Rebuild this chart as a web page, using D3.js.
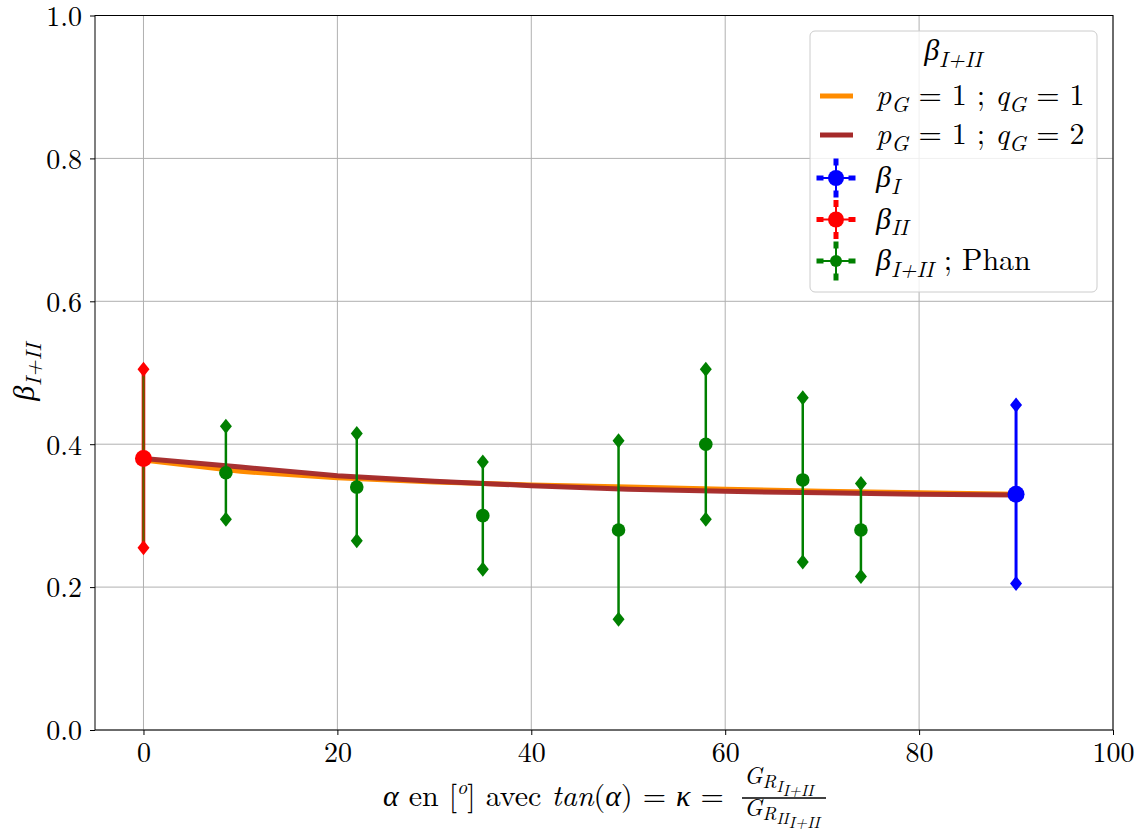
<!DOCTYPE html>
<html><head><meta charset="utf-8">
<script src="https://cdn.jsdelivr.net/npm/d3@7"></script>
<style>body{margin:0;background:#fff}svg{display:block}</style>
</head><body><svg id="c" width="1143" height="837"></svg>
<script>
// ---- data ----
const xTicks = [0, 20, 40, 60, 80, 100];
const yTicks = [0.0, 0.2, 0.4, 0.6, 0.8, 1.0];
const curveX = [0, 10, 20, 30, 40, 50, 60, 70, 80, 90];
const curve11 = [0.378, 0.362, 0.353, 0.347, 0.343, 0.340, 0.337, 0.334, 0.332, 0.330];
const curve12 = [0.380, 0.368, 0.356, 0.348, 0.342, 0.337, 0.334, 0.332, 0.330, 0.329];
const phanX = [8.5, 22, 35, 49, 58, 68, 74];
const phanY = [0.36, 0.34, 0.30, 0.28, 0.40, 0.35, 0.28];
const phanErr = [0.065, 0.075, 0.075, 0.125, 0.105, 0.115, 0.065];
const betaIIX = [0], betaIIY = [0.38], betaIIErr = [0.125];
const betaIX = [90], betaIY = [0.33], betaIErr = [0.125];

const FONT = "Latin Modern Roman, Liberation Serif, serif";
const svg = d3.select("#c");
const L = 95, R = 1113, T = 15.5, B = 730;
const x = d3.scaleLinear().domain([-5, 100]).range([L, R]);
const y = d3.scaleLinear().domain([0, 1]).range([B, T]);

// grid
const g = svg.append("g");
g.selectAll(".gx").data(xTicks).join("line").attr("x1", d=>x(d)).attr("x2", d=>x(d)).attr("y1", T).attr("y2", B).attr("stroke", "#b0b0b0").attr("stroke-width", 1);
g.selectAll(".gy").data(yTicks).join("line").attr("y1", d=>y(d)).attr("y2", d=>y(d)).attr("x1", L).attr("x2", R).attr("stroke", "#b0b0b0").attr("stroke-width", 1);

// axes
const ax = svg.append("g").attr("transform", `translate(0,${B})`).call(d3.axisBottom(x).tickValues(xTicks).tickFormat(d3.format("d")).tickSize(5).tickPadding(7));
const ay = svg.append("g").attr("transform", `translate(${L},0)`).call(d3.axisLeft(y).tickValues(yTicks).tickFormat(d3.format(".1f")).tickSize(5).tickPadding(8));
[ax, ay].forEach(a => { a.attr("font-family", FONT); a.select(".domain").remove(); a.selectAll("text").attr("font-size", 28).attr("font-family", FONT).attr("fill", "#000"); a.selectAll("line").attr("stroke", "#000"); });
ay.selectAll("text").attr("dy", "0.35em");
svg.append("rect").attr("x", L).attr("y", T).attr("width", R - L).attr("height", B - T).attr("fill", "none").attr("stroke", "#000").attr("stroke-width", 1);

// curves
const line = d3.line().x((d,i)=>x(curveX[i])).y(d=>y(d));
svg.append("path").datum(curve11).attr("d", line).attr("fill", "none").attr("stroke", "#ff8c00").attr("stroke-width", 5);
svg.append("path").datum(curve12).attr("d", line).attr("fill", "none").attr("stroke", "#a52a2a").attr("stroke-width", 5).attr("opacity", 0.97);

function diamond(cx, cy, w, h){ return `M${cx},${cy-h}L${cx+w},${cy}L${cx},${cy+h}L${cx-w},${cy}Z`; }
function errbars(xs, ys, es, color, lw, r, lineColor){
  const eg = svg.append("g");
  xs.forEach((xv, i) => {
    const px = x(xv), top = y(ys[i] + es[i]), bot = y(ys[i] - es[i]);
    eg.append("line").attr("x1", px).attr("x2", px).attr("y1", top).attr("y2", bot).attr("stroke", color).attr("stroke-width", lw);
    if (lineColor) eg.append("line").attr("x1", px).attr("x2", px).attr("y1", top).attr("y2", bot).attr("stroke", lineColor).attr("stroke-width", lw*0.6);
    eg.append("path").attr("d", diamond(px, top, 6, 7.5)).attr("fill", color);
    eg.append("path").attr("d", diamond(px, bot, 6, 7.5)).attr("fill", color);
    eg.append("circle").attr("cx", px).attr("cy", y(ys[i])).attr("r", r).attr("fill", color);
  });
}
errbars(betaIIX, betaIIY, betaIIErr, "#ff0000", 3.6, 8.5, "#556600");
errbars(phanX, phanY, phanErr, "#008000", 2.5, 6.8);
errbars(betaIX, betaIY, betaIErr, "#0000ff", 3, 8.5);

// math text helper: segments [text, italic, level]
function mtext(sel, segs, size){
  sel.attr("font-family", FONT).attr("fill", "#000");
  let cur = 0;
  const sh = l => l === 0 ? 0 : (l === 1 ? size*0.22 : size*0.38);
  segs.forEach(([t, it, lvl]) => {
    const fs = lvl === 0 ? size : (lvl === 1 ? size * 0.74 : size * 0.55);
    sel.append("tspan").text(t).attr("font-style", it ? "italic" : "normal").attr("font-size", fs).attr("dy", sh(lvl) - sh(cur));
    cur = lvl;
  });
  return sel;
}

// y label
const yl = svg.append("text").attr("transform", "translate(34,372) rotate(-90)").attr("text-anchor", "middle");
mtext(yl, [["β", true, 0], ["I+II", true, 1]], 30);

// x label
const xl = svg.append("text").attr("x", 383).attr("y", 806).attr("text-anchor", "start").attr("font-family", FONT).attr("font-size", 30).attr("fill", "#000");
xl.append("tspan").text("α").attr("font-style", "italic");
xl.append("tspan").text(" en [");
xl.append("tspan").text("o").attr("font-style", "italic").attr("font-size", 20).attr("dy", -12);
xl.append("tspan").text("] avec ").attr("dy", 12);
xl.append("tspan").text("tan").attr("font-style", "italic");
xl.append("tspan").text("(");
xl.append("tspan").text("α").attr("font-style", "italic");
xl.append("tspan").text(") = ");
xl.append("tspan").text("κ").attr("font-style", "italic");
xl.append("tspan").text(" =");
// fraction
const fx = 742, fy = 798;
svg.append("line").attr("x1", fx).attr("x2", fx + 84).attr("y1", fy).attr("y2", fy).attr("stroke", "#000").attr("stroke-width", 1.5);
function fracPart(yy, sub2){
  const t = svg.append("text").attr("x", fx + 2).attr("y", yy).attr("font-family", FONT).attr("fill", "#000").attr("font-style", "italic");
  t.append("tspan").text("G").attr("font-size", 24);
  t.append("tspan").text("R").attr("font-size", 19).attr("dy", 4);
  t.append("tspan").text(sub2).attr("font-size", 16).attr("dy", 4);
  t.append("tspan").text("I+II").attr("font-size", 16).attr("dy", 4);
}
fracPart(fy - 14, "I");
fracPart(fy + 18, "II");

// legend
const lg = svg.append("g");
lg.append("rect").attr("x", 810).attr("y", 31).attr("width", 287).attr("height", 261).attr("rx", 5).attr("fill", "#fff").attr("fill-opacity", 0.8).attr("stroke", "#cccccc").attr("stroke-width", 1);
const lt = lg.append("text").attr("x", 953).attr("y", 60).attr("text-anchor", "middle");
mtext(lt, [["β", true, 0], ["I+II", true, 1]], 30);
const lineItems = [["#ff8c00", "1"], ["#a52a2a", "2"]];
lineItems.forEach(([c, q], i) => {
  const yy = 96 + i * 39;
  lg.append("line").attr("x1", 820).attr("x2", 853).attr("y1", yy).attr("y2", yy).attr("stroke", c).attr("stroke-width", 5);
  const t = lg.append("text").attr("x", 876).attr("y", yy + 9);
  mtext(t, [["p", true, 0], ["G", true, 1], [" = 1 ; ", false, 0], ["q", true, 0], ["G", true, 1], [" = " + q, false, 0]], 30);
});
const ebItems = [["#0000ff", [["β", true, 0], ["I", true, 1]], 8], ["#ff0000", [["β", true, 0], ["II", true, 1]], 8], ["#008000", [["β", true, 0], ["I+II", true, 1], [" ; Phan", false, 0]], 6]];
ebItems.forEach(([c, segs, r], i) => {
  const yy = 178 + i * 41.5, cx = 836;
  lg.append("line").attr("x1", cx - 16).attr("x2", cx + 16).attr("y1", yy).attr("y2", yy).attr("stroke", c).attr("stroke-width", 2);
  lg.append("line").attr("x1", cx).attr("x2", cx).attr("y1", yy - 16).attr("y2", yy + 16).attr("stroke", c).attr("stroke-width", 2);
  [[-16,0,7,5],[16,0,7,5],[0,-16,5,7],[0,16,5,7]].forEach(([dx,dy,w,h]) => lg.append("rect").attr("x", cx+dx-w/2).attr("y", yy+dy-h/2).attr("width", w).attr("height", h).attr("fill", c));
  lg.append("circle").attr("cx", cx).attr("cy", yy).attr("r", r).attr("fill", c);
  const t = lg.append("text").attr("x", 876).attr("y", yy + 9);
  mtext(t, segs, 30);
});
</script></body></html>
